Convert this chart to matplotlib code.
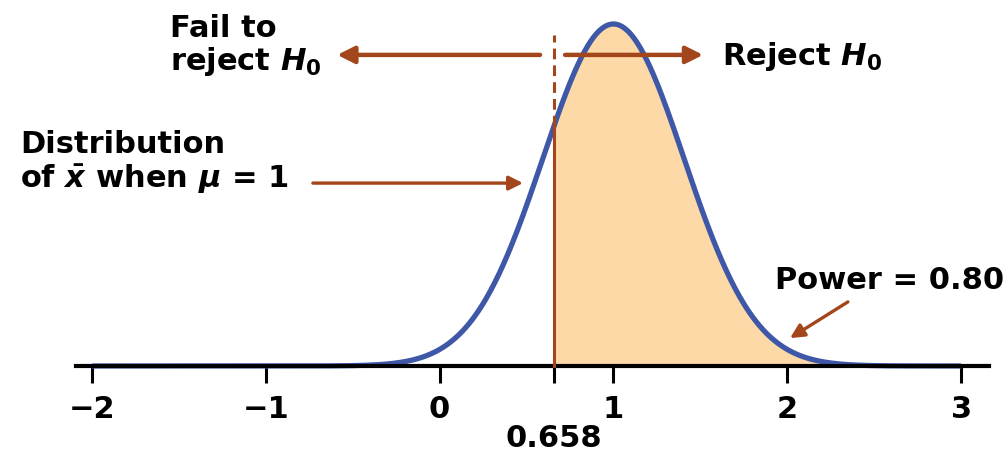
import matplotlib
matplotlib.use('Agg')
import matplotlib.pyplot as plt
import numpy as np

plt.rcParams['font.family'] = ['DejaVu Sans']
plt.rcParams['font.weight'] = 'bold'
plt.rcParams['mathtext.fontset'] = 'custom'
plt.rcParams['mathtext.rm'] = 'DejaVu Sans:bold'
plt.rcParams['mathtext.it'] = 'DejaVu Sans:italic:bold'
plt.rcParams['mathtext.bf'] = 'DejaVu Sans:bold'

# 样本均值的分布（mu = 1），拒绝域临界值与功效
mu = 1.0
cutoff = 0.658
power = 0.80
z_power = 0.8416            # 标准正态下 P(Z > -z) = 0.80
sigma = (mu - cutoff) / z_power

tick_values = [-2, -1, 0, 1, 2, 3]
tick_labels = ['\u22122', '\u22121', '0', '1', '2', '3']
x_range = [-2, 3]

BLUE = '#3f57a7'
BROWN = '#a4461b'
FILL = '#fcd9a7'


def density(x):
    return np.exp(-0.5 * ((x - mu) / sigma) ** 2) / (sigma * np.sqrt(2 * np.pi))


fig = plt.figure(figsize=(10.08, 4.55), dpi=100)
ax = fig.add_axes([0, 0, 1, 1])
ax.set_xlim(-2.529, 3.270)
ax.set_ylim(-0.2555, 1.0506)

x = np.linspace(x_range[0], x_range[1], 800)
y = density(x)

# 功效区域
xs = x[x >= cutoff]
ax.fill_between(np.r_[cutoff, xs], 0, density(np.r_[cutoff, xs]), color=FILL, lw=0, zorder=1)
ax.plot(x, y, color=BLUE, lw=3.8, solid_capstyle='butt', zorder=2)

# 临界值竖线：曲线下实线，曲线上虚线
h_cut = density(cutoff)
ax.plot([cutoff, cutoff], [0, h_cut], color=BROWN, lw=2.2, zorder=3)
ax.plot([cutoff, cutoff], [h_cut, 0.950], color=BROWN, lw=2.2,
        dashes=(3.5, 2.0), zorder=3)

# 坐标轴
for s in ['left', 'right', 'top']:
    ax.spines[s].set_visible(False)
ax.spines['bottom'].set_position(('data', 0))
ax.spines['bottom'].set_bounds(-2.09, 3.16)
ax.spines['bottom'].set_linewidth(3)
ax.spines['bottom'].set_zorder(2.5)
ax.set_yticks([])
ax.set_xticks(tick_values)
ax.set_xticklabels(tick_labels)
ax.set_xticks([cutoff], minor=True)
ax.set_xticklabels(['%.3f' % cutoff], minor=True)
ax.tick_params(axis='x', which='both', direction='out', length=12, width=2.2,
               labelsize=22, color='black')
ax.tick_params(axis='x', which='major', pad=9)
ax.tick_params(axis='x', which='minor', pad=30)
for lab in ax.get_xticklabels(which='both'):
    lab.set_fontweight('bold')

arrow_kw = dict(arrowstyle='-|>,head_length=0.6,head_width=0.3',
                color=BROWN, shrinkA=0, shrinkB=0)

# 拒绝/不拒绝 H0 的方向箭头
ax.annotate('', xy=(-0.589, 0.893), xytext=(0.578, 0.893),
            arrowprops=dict(lw=3.2, mutation_scale=17, **arrow_kw))
ax.annotate('', xy=(1.516, 0.893), xytext=(0.722, 0.893),
            arrowprops=dict(lw=3.2, mutation_scale=17, **arrow_kw))
ax.annotate('', xy=(0.480, 0.525), xytext=(-0.729, 0.525),
            arrowprops=dict(lw=2.4, mutation_scale=14, **arrow_kw))
ax.annotate('', xy=(2.016, 0.080), xytext=(2.349, 0.184),
            arrowprops=dict(lw=2.4, mutation_scale=14, **arrow_kw))

txt = dict(fontsize=22, fontweight='bold', color='black', va='baseline', ha='left')
ax.text(-1.551, 0.944, 'Fail to', **txt)
ax.text(-1.551, 0.849, 'reject $H_0$', **txt)
ax.text(1.626, 0.864, 'Reject $H_0$', **txt)
ax.text(-2.414, 0.612, 'Distribution', **txt)
ax.text(-2.414, 0.512, r'of $\bar{x}$ when $\mu$ = 1', **txt)
ax.text(3.247, 0.221, 'Power = %.2f' % power, fontsize=22, fontweight='bold',
        va='baseline', ha='right')

fig.savefig('out.png', dpi=100)
plt.close(fig)
